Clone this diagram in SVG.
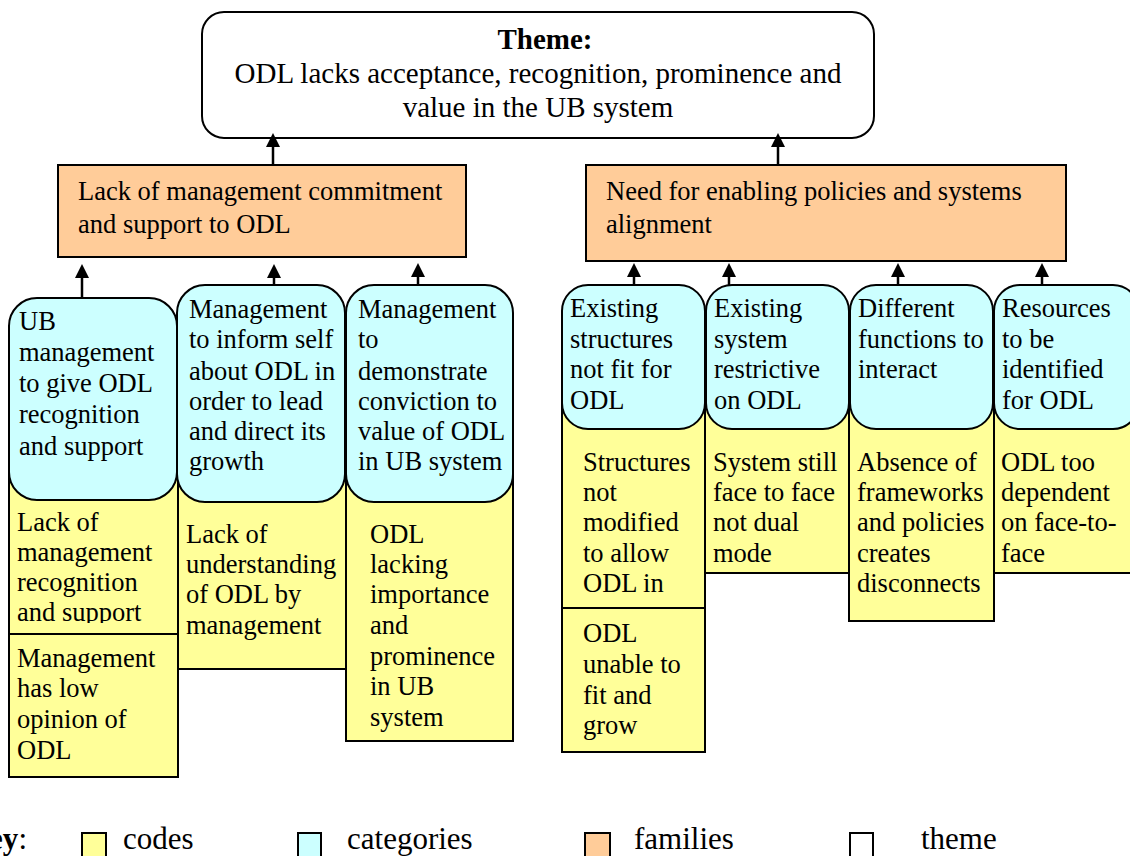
<svg xmlns="http://www.w3.org/2000/svg" width="1130" height="856" viewBox="0 0 1130 856">
<defs>
<style>
.t{font-family:"Liberation Serif","Times New Roman",serif;font-size:26.5px;fill:#000}
.th{font-family:"Liberation Serif","Times New Roman",serif;font-size:29px;fill:#000}
.lg{font-family:"Liberation Serif","Times New Roman",serif;font-size:31px;fill:#000}
.code{fill:#FFFF99;stroke:#000;stroke-width:2}
.cat{fill:#CCFFFF;stroke:#000;stroke-width:2}
.fam{fill:#FFCC99;stroke:#000;stroke-width:2}
.theme{fill:#FFFFFF;stroke:#000;stroke-width:2}
.conn{stroke:#000;stroke-width:2.5;fill:none}
.head{fill:#000}
</style>
<clipPath id="clip1"><rect x="9" y="460" width="170" height="163"/></clipPath>
</defs>
<rect width="1130" height="856" fill="#fff"/>

<g id="theme">
<rect class="theme" x="202" y="12" width="672" height="126" rx="22"/>
<text class="th" x="545" y="49" text-anchor="middle" font-weight="bold">Theme:</text>
<text class="th" x="538" y="83" text-anchor="middle">ODL lacks acceptance, recognition, prominence and</text>
<text class="th" x="538" y="117" text-anchor="middle">value in the UB system</text>
</g>

<g id="family-left">
<rect class="fam" x="58" y="165" width="408" height="92"/>
<text class="t" x="78" y="200">Lack of management commitment</text>
<text class="t" x="78" y="233">and support to ODL</text>
</g>
<g id="family-right">
<rect class="fam" x="586" y="165" width="480" height="96"/>
<text class="t" x="606" y="200">Need for enabling policies and systems</text>
<text class="t" x="606" y="233">alignment</text>
</g>

<!-- codes (left) -->
<g id="code-l1a">
<rect class="code" x="9" y="460" width="169" height="174"/>
<g clip-path="url(#clip1)">
<text class="t" x="17" y="531">Lack of</text>
<text class="t" x="17" y="561">management</text>
<text class="t" x="17" y="591">recognition</text>
<text class="t" x="17" y="621">and support</text>
</g>
</g>
<g id="code-l1b">
<rect class="code" x="9" y="634" width="169" height="143"/>
<text class="t" x="17" y="667">Management</text>
<text class="t" x="17" y="697">has low</text>
<text class="t" x="17" y="728">opinion of</text>
<text class="t" x="17" y="759">ODL</text>
</g>
<g id="code-l2">
<rect class="code" x="178" y="460" width="168" height="209"/>
<text class="t" x="186" y="543">Lack of</text>
<text class="t" x="186" y="573">understanding</text>
<text class="t" x="186" y="603">of ODL by</text>
<text class="t" x="186" y="634">management</text>
</g>
<g id="code-l3">
<rect class="code" x="346" y="460" width="167" height="281"/>
<text class="t" x="370" y="543">ODL</text>
<text class="t" x="370" y="573">lacking</text>
<text class="t" x="370" y="603">importance</text>
<text class="t" x="370" y="634">and</text>
<text class="t" x="370" y="665">prominence</text>
<text class="t" x="370" y="695">in UB</text>
<text class="t" x="370" y="726">system</text>
</g>

<!-- codes (right) -->
<g id="code-r1a">
<rect class="code" x="562" y="400" width="143" height="208"/>
<text class="t" x="583" y="471" font-size="24">Structures</text>
<text class="t" x="583" y="501">not</text>
<text class="t" x="583" y="531">modified</text>
<text class="t" x="583" y="562">to allow</text>
<text class="t" x="583" y="592">ODL in</text>
</g>
<g id="code-r1b">
<rect class="code" x="562" y="608" width="143" height="144"/>
<text class="t" x="583" y="642">ODL</text>
<text class="t" x="583" y="673">unable to</text>
<text class="t" x="583" y="704">fit and</text>
<text class="t" x="583" y="734">grow</text>
</g>
<g id="code-r2">
<rect class="code" x="705" y="400" width="144" height="173"/>
<text class="t" x="713" y="471">System still</text>
<text class="t" x="713" y="501">face to face</text>
<text class="t" x="713" y="531">not dual</text>
<text class="t" x="713" y="562">mode</text>
</g>
<g id="code-r3">
<rect class="code" x="849" y="400" width="145" height="221"/>
<text class="t" x="857" y="471">Absence of</text>
<text class="t" x="857" y="501">frameworks</text>
<text class="t" x="857" y="531">and policies</text>
<text class="t" x="857" y="562">creates</text>
<text class="t" x="857" y="592">disconnects</text>
</g>
<g id="code-r4">
<rect class="code" x="994" y="400" width="146" height="173"/>
<text class="t" x="1001" y="471">ODL too</text>
<text class="t" x="1001" y="501">dependent</text>
<text class="t" x="1001" y="531">on face-to-</text>
<text class="t" x="1001" y="562">face</text>
</g>

<!-- categories (left) -->
<g id="cat-l1">
<rect class="cat" x="9" y="298" width="168" height="202" rx="28"/>
<text class="t" x="19" y="330">UB</text>
<text class="t" x="19" y="361">management</text>
<text class="t" x="19" y="392">to give ODL</text>
<text class="t" x="19" y="423">recognition</text>
<text class="t" x="19" y="455">and support</text>
</g>
<g id="cat-l2">
<rect class="cat" x="177" y="285" width="168" height="217" rx="28"/>
<text class="t" x="189" y="318">Management</text>
<text class="t" x="189" y="348">to inform self</text>
<text class="t" x="189" y="380">about ODL in</text>
<text class="t" x="189" y="410">order to lead</text>
<text class="t" x="189" y="440">and direct its</text>
<text class="t" x="189" y="470">growth</text>
</g>
<g id="cat-l3">
<rect class="cat" x="346" y="285" width="167" height="217" rx="28"/>
<text class="t" x="358" y="318">Management</text>
<text class="t" x="358" y="348">to</text>
<text class="t" x="358" y="380">demonstrate</text>
<text class="t" x="358" y="410">conviction to</text>
<text class="t" x="358" y="440">value of ODL</text>
<text class="t" x="358" y="470">in UB system</text>
</g>

<!-- categories (right) -->
<g id="cat-r1">
<rect class="cat" x="562" y="285" width="143" height="144" rx="26"/>
<text class="t" x="570" y="317">Existing</text>
<text class="t" x="570" y="348">structures</text>
<text class="t" x="570" y="378">not fit for</text>
<text class="t" x="570" y="409">ODL</text>
</g>
<g id="cat-r2">
<rect class="cat" x="706" y="285" width="143" height="144" rx="26"/>
<text class="t" x="714" y="317">Existing</text>
<text class="t" x="714" y="348">system</text>
<text class="t" x="714" y="378">restrictive</text>
<text class="t" x="714" y="409">on ODL</text>
</g>
<g id="cat-r3">
<rect class="cat" x="850" y="285" width="143" height="144" rx="26"/>
<text class="t" x="858" y="317">Different</text>
<text class="t" x="858" y="348">functions to</text>
<text class="t" x="858" y="378">interact</text>
</g>
<g id="cat-r4">
<rect class="cat" x="994" y="285" width="145" height="144" rx="26"/>
<text class="t" x="1002" y="317">Resources</text>
<text class="t" x="1002" y="348">to be</text>
<text class="t" x="1002" y="378">identified</text>
<text class="t" x="1002" y="409">for ODL</text>
</g>

<g id="connectors">
<line class="conn" x1="273" y1="165" x2="273" y2="146"/>
<polygon class="head" points="273,133 266,147 280,147"/>
<line class="conn" x1="778" y1="165" x2="778" y2="146"/>
<polygon class="head" points="778,133 771,147 785,147"/>

<line class="conn" x1="82" y1="298" x2="82" y2="276"/>
<polygon class="head" points="82,264 75,278 89,278"/>
<line class="conn" x1="274" y1="285" x2="274" y2="276"/>
<polygon class="head" points="274,264 267,278 281,278"/>
<line class="conn" x1="418" y1="285" x2="418" y2="276"/>
<polygon class="head" points="418,263 411,277 425,277"/>

<line class="conn" x1="634" y1="285" x2="634" y2="275"/>
<polygon class="head" points="634,263 627,277 641,277"/>
<line class="conn" x1="729" y1="285" x2="729" y2="275"/>
<polygon class="head" points="729,263 722,277 736,277"/>
<line class="conn" x1="898" y1="285" x2="898" y2="275"/>
<polygon class="head" points="898,263 891,277 905,277"/>
<line class="conn" x1="1042" y1="285" x2="1042" y2="275"/>
<polygon class="head" points="1042,263 1035,277 1049,277"/>
</g>

<g id="legend">
<text class="lg" x="27" y="849" text-anchor="end"><tspan font-weight="bold">Key</tspan>:</text>
<rect class="code" x="82" y="833" width="24" height="30"/>
<text class="lg" x="123" y="849">codes</text>
<rect class="cat" x="298" y="833" width="23" height="30"/>
<text class="lg" x="347" y="849">categories</text>
<rect class="fam" x="585" y="833" width="25" height="30"/>
<text class="lg" x="634" y="849">families</text>
<rect class="theme" x="850" y="833" width="23" height="30"/>
<text class="lg" x="921" y="849">theme</text>
</g>
</svg>
